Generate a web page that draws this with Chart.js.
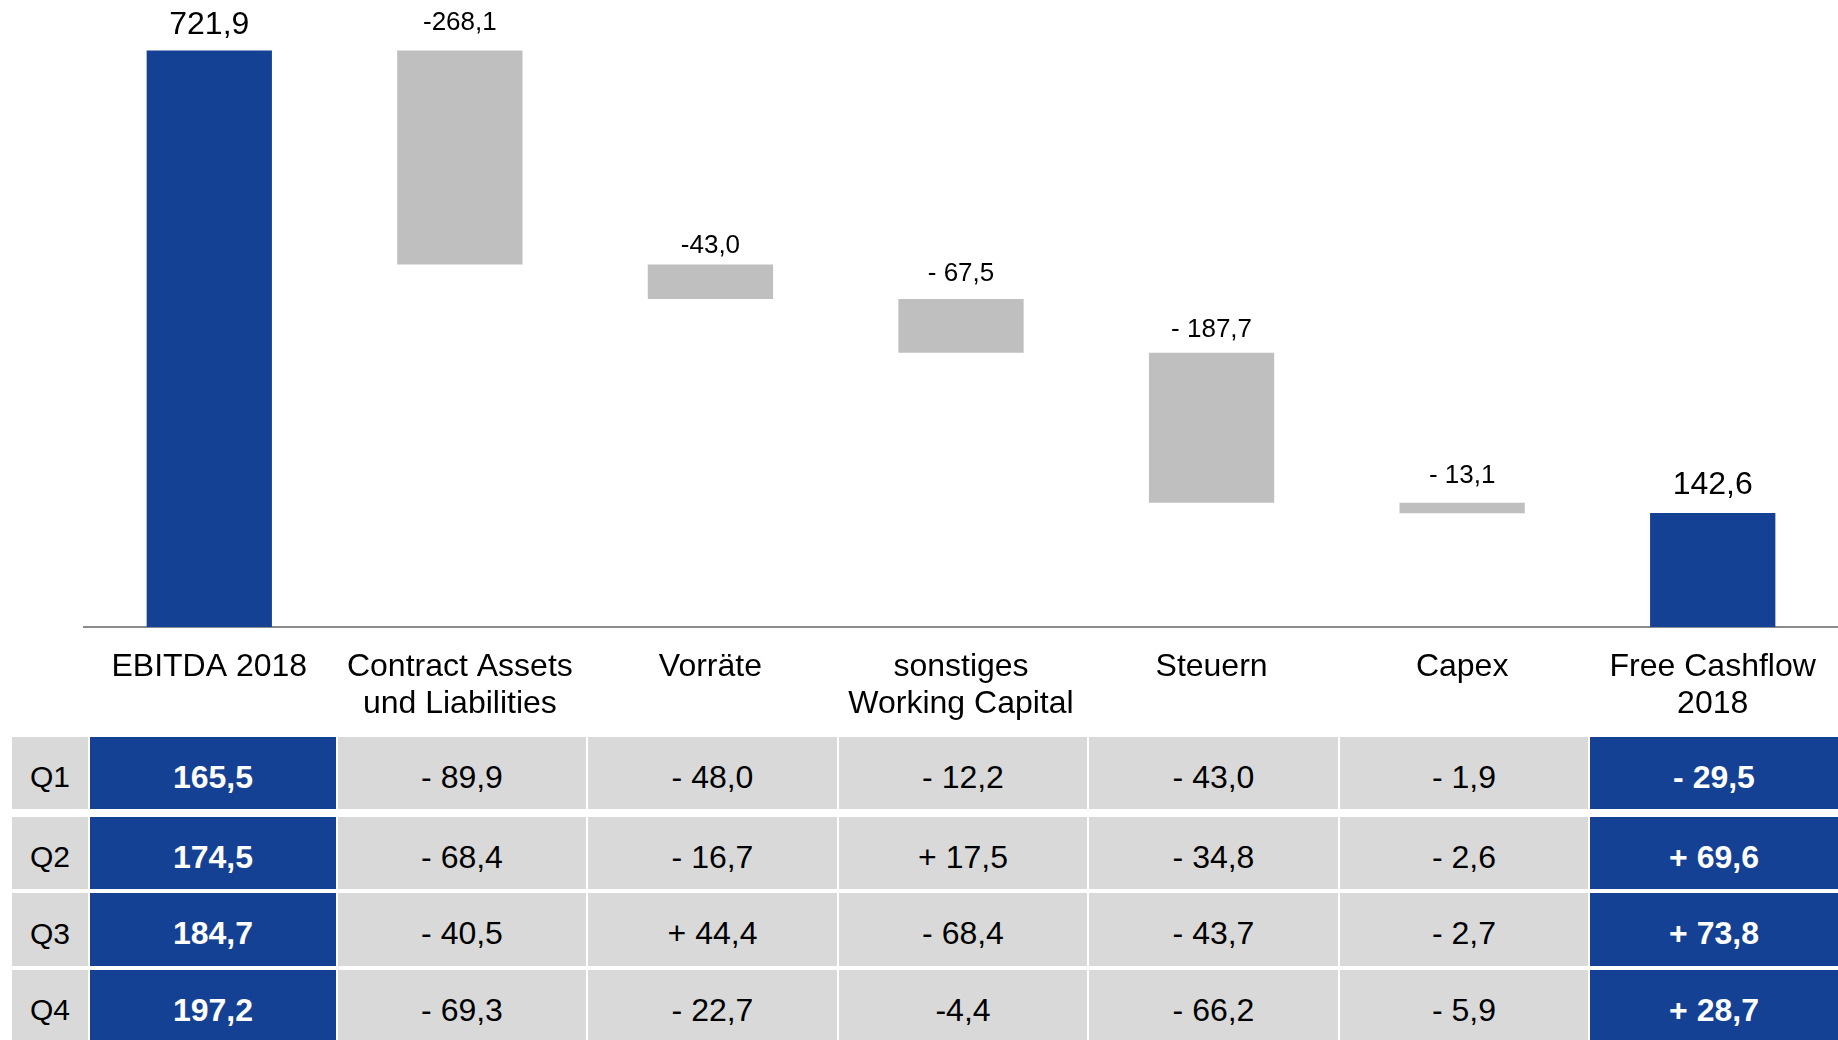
<!DOCTYPE html>
<html>
<head>
<meta charset="utf-8">
<script src="https://cdn.jsdelivr.net/npm/chart.js@4.4.1/dist/chart.umd.min.js"></script>
<style>
    html, body {
        margin: 0;
        padding: 0;
        background: #fff;
        width: 1838px;
        height: 1040px;
        overflow: hidden;
        font-family: "Liberation Sans", Arial, sans-serif;
    }
    #chartBox {
        position: absolute;
        left: 0;
        top: 0;
        width: 1838px;
        height: 737px;
    }
    .cell {
        position: absolute;
        box-sizing: border-box;
        padding-top: 8px;
        display: flex;
        align-items: center;
        justify-content: center;
        font-size: 32px;
        color: #000;
        background: #d9d9d9;
        white-space: nowrap;
    }
    .cell.total {
        background: #154194;
        color: #fff;
        font-weight: bold;
    }
    .cell.quarter {
        font-size: 30px;
    }
</style>
</head>
<body>
<div id="chartBox"><canvas id="bridgeChart"></canvas></div>
<div id="cashTable"></div>
<script>
var categories = [
    ['EBITDA 2018'],
    ['Contract Assets', 'und Liabilities'],
    ['Vorräte'],
    ['sonstiges', 'Working Capital'],
    ['Steuern'],
    ['Capex'],
    ['Free Cashflow', '2018']
];
var changes = [721.9, -268.1, -43.0, -67.5, -187.7, -13.1, 142.6];
var barLabels = ['721,9', '-268,1', '-43,0', '- 67,5', '- 187,7', '- 13,1', '142,6'];

var quarters = ['Q1', 'Q2', 'Q3', 'Q4'];
var q1Cells = ['165,5', '- 89,9', '- 48,0', '- 12,2', '- 43,0', '- 1,9', '- 29,5'];
var q2Cells = ['174,5', '- 68,4', '- 16,7', '+ 17,5', '- 34,8', '- 2,6', '+ 69,6'];
var q3Cells = ['184,7', '- 40,5', '+ 44,4', '- 68,4', '- 43,7', '- 2,7', '+ 73,8'];
var q4Cells = ['197,2', '- 69,3', '- 22,7', '-4,4', '- 66,2', '- 5,9', '+ 28,7'];

var BLUE = '#154194';
var GREY = '#bfbfbf';
var lastIndex = changes.length - 1;

// floating bars: totals start at zero, changes hang from the running total
var ranges = [];
var colors = [];
var running = 0;
for (var i = 0; i < changes.length; i++) {
    if (i === 0 || i === lastIndex) {
        ranges.push([0, changes[i]]);
        running = changes[i];
        colors.push(BLUE);
    } else {
        ranges.push([running, running + changes[i]]);
        running = running + changes[i];
        colors.push(GREY);
    }
}

// distance of each value label above its bar (the original is a bit uneven)
var labelGaps = [25, 28, 19, 25, 23, 27, 28];

var barLabelPlugin = {
    id: 'barLabels',
    afterDatasetsDraw: function (chart) {
        var ctx = chart.ctx;
        var meta = chart.getDatasetMeta(0);
        ctx.save();
        ctx.fillStyle = '#000';
        ctx.textAlign = 'center';
        ctx.textBaseline = 'middle';
        meta.data.forEach(function (bar, idx) {
            var big = (idx === 0 || idx === lastIndex);
            ctx.font = (big ? '32px' : '26px') + ' "Liberation Sans", Arial, sans-serif';
            var top = Math.min(bar.y, bar.base);
            ctx.fillText(barLabels[idx], bar.x, top - labelGaps[idx]);
        });
        ctx.restore();
    }
};

var chart = new Chart(document.getElementById('bridgeChart').getContext('2d'), {
    type: 'bar',
    data: {
        labels: categories,
        datasets: [{
            data: ranges,
            backgroundColor: colors,
            borderWidth: 0,
            barPercentage: 0.5,
            categoryPercentage: 1.0
        }]
    },
    options: {
        responsive: true,
        maintainAspectRatio: false,
        animation: false,
        layout: {
            padding: { left: 84, right: 0, top: 0, bottom: 0 }
        },
        plugins: {
            legend: { display: false },
            tooltip: { enabled: false }
        },
        scales: {
            x: {
                grid: { display: false, drawTicks: false },
                border: { display: true, color: '#8c8c8c', width: 2 },
                ticks: {
                    color: '#000',
                    padding: 21,
                    autoSkip: false,
                    maxRotation: 0,
                    font: { family: '"Liberation Sans", Arial, sans-serif', size: 32, lineHeight: 1.17 }
                },
                afterFit: function (scale) {
                    scale.height = 110;
                }
            },
            y: {
                display: false,
                min: 0,
                max: 785
            }
        }
    },
    plugins: [barLabelPlugin]
});

function buildTable() {
    var xScale = chart.scales.x;
    var half = (xScale.right - xScale.left) / categories.length / 2;
    var rowTops = [737, 817, 893, 970];
    var rowHeights = [72, 72, 73, 72];
    var rows = [q1Cells, q2Cells, q3Cells, q4Cells];
    var html = '';

    for (var r = 0; r < rows.length; r++) {
        var style = 'top:' + rowTops[r] + 'px;height:' + rowHeights[r] + 'px;';
        html += '<div class="cell quarter" style="' + style + 'left:12px;width:76px;">' + quarters[r] + '</div>';
        for (var c = 0; c < rows[r].length; c++) {
            var center = xScale.getPixelForValue(c);
            var left = (c === 0) ? 90 : Math.round(center - half + 3);
            var right = (c === lastIndex) ? 1838 : Math.round(center + half + 1);
            var cls = (c === 0 || c === lastIndex) ? 'cell total' : 'cell';
            html += '<div class="' + cls + '" style="' + style + 'left:' + left + 'px;width:' + (right - left) + 'px;">' +
                rows[r][c] + '</div>';
        }
    }
    document.getElementById('cashTable').innerHTML = html;
}

buildTable();
</script>
</body>
</html>
